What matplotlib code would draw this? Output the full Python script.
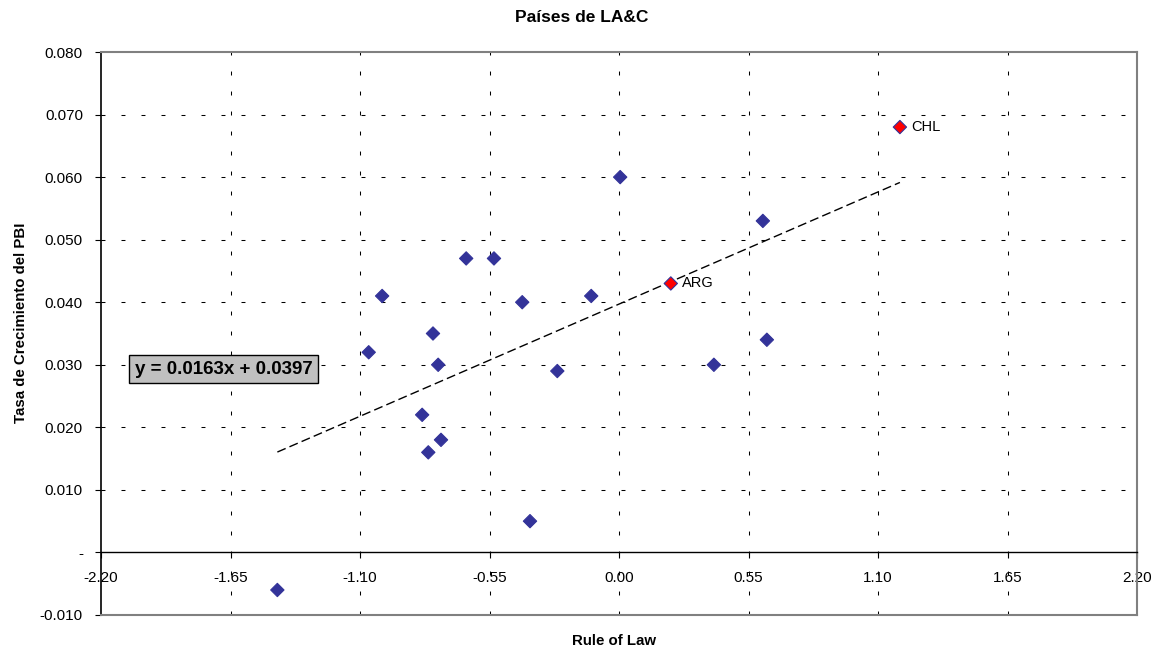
import matplotlib
matplotlib.use('Agg')
import matplotlib.pyplot as plt
import numpy as np

plt.rcParams['font.family'] = ['Liberation Sans', 'DejaVu Sans']

# Rule of Law vs. tasa de crecimiento del PBI
paises = ['', '', '', '', '', '', '', '', '', '', '', '', '', '', '', 'ARG', '', '', '', 'CHL']
rule_of_law = [-1.451, -1.063, -1.006, -0.836, -0.810, -0.790, -0.768, -0.756,
               -0.649, -0.531, -0.411, -0.378, -0.262, -0.118, 0.005, 0.220,
               0.403, 0.611, 0.628, 1.193]
crecimiento = [-0.006, 0.032, 0.041, 0.022, 0.016, 0.035, 0.030, 0.018,
               0.047, 0.047, 0.040, 0.005, 0.029, 0.041, 0.060, 0.043,
               0.030, 0.053, 0.034, 0.068]

# Recta de tendencia (Excel)
pendiente = 0.0163
intercepto = 0.0397

x_ticks = [-2.20, -1.65, -1.10, -0.55, 0.00, 0.55, 1.10, 1.65, 2.20]
y_ticks = [-0.010, 0.0, 0.010, 0.020, 0.030, 0.040, 0.050, 0.060, 0.070, 0.080]
y_tick_labels = ['-0.010', '-', '0.010', '0.020', '0.030', '0.040', '0.050',
                 '0.060', '0.070', '0.080']

azul = '#333399'
gris = '#808080'

fig = plt.figure(figsize=(11.56, 6.51), dpi=100)
ax = fig.add_axes([101 / 1156, 36 / 651, 1036 / 1156, 563 / 651])
ax.set_xlim(-2.2, 2.2)
ax.set_ylim(-0.01, 0.08)

# Grilla punteada
for xv in x_ticks[1:-1]:
    ax.axvline(xv, color='black', lw=0.75, linestyle=(0, (3.8, 15.4)), zorder=1)
for yv in y_ticks[2:-1]:
    ax.axhline(yv, color='black', lw=0.75, linestyle=(0, (3.8, 15.4)), zorder=1)

# Ejes y marco
ax.spines['bottom'].set_position(('data', 0))
ax.spines['bottom'].set_color('black')
ax.spines['bottom'].set_linewidth(1.0)
ax.spines['left'].set_color('black')
ax.spines['left'].set_linewidth(1.2)
for lado in ['top', 'right']:
    ax.spines[lado].set_color(gris)
    ax.spines[lado].set_linewidth(1.5)
ax.axhline(-0.01, color=gris, lw=1.5, clip_on=False, zorder=3)

ax.set_xticks(x_ticks)
ax.set_xticklabels([f'{v:.2f}' for v in x_ticks])
ax.set_yticks(y_ticks)
ax.set_yticklabels(y_tick_labels)
ax.tick_params(axis='both', direction='out', length=4, width=0.8, pad=9,
               labelsize=11, colors='black')

# Recta de tendencia
xs = np.array([min(rule_of_law), max(rule_of_law)])
ax.plot(xs, pendiente * xs + intercepto, color='black', lw=1.0,
        linestyle=(0, (6.5, 3)), zorder=2)

# Puntos
colores = ['red' if p else azul for p in paises]
ax.scatter(rule_of_law, crecimiento, marker='D', s=46, c=colores,
           edgecolors=azul, linewidths=0.8, zorder=4, clip_on=False)

for p, xv, yv in zip(paises, rule_of_law, crecimiento):
    if p:
        ax.annotate(p, (xv, yv), xytext=(8, 0), textcoords='offset points',
                    va='center', ha='left', fontsize=10.5, zorder=5)

ax.text(-1.678, 0.0293, f'y = {pendiente}x + {intercepto}', fontsize=13.5,
        fontweight='bold', ha='center', va='center', zorder=6,
        bbox=dict(boxstyle='square,pad=0.3', facecolor='#C0C0C0',
                  edgecolor='black', linewidth=1))

fig.text(582 / 1156, 1 - 18 / 651, 'Países de LA&C', ha='center', va='center',
         fontsize=12.5, fontweight='bold')
fig.text(614 / 1156, 1 - 641 / 651, 'Rule of Law', ha='center', va='center',
         fontsize=10.8, fontweight='bold')
fig.text(21 / 1156, 1 - 323 / 651, 'Tasa de Crecimiento del PBI', ha='center',
         va='center', rotation=90, fontsize=10.8, fontweight='bold')

fig.savefig('out.png', dpi=100)
